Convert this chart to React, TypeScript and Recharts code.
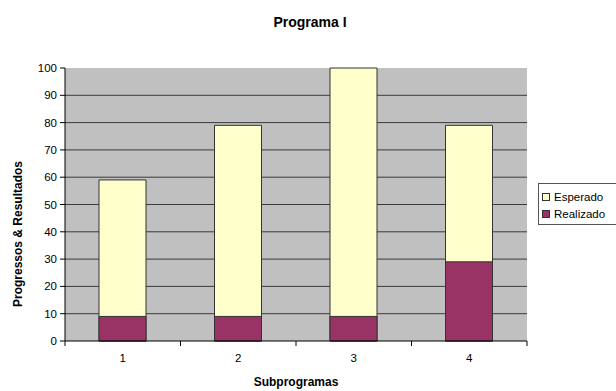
import { BarChart, Bar, XAxis, YAxis, CartesianGrid } from 'recharts'

const categories = ['1', '2', '3', '4']
const esperado = [59, 79, 100, 79]
const realizado = [9, 9, 9, 29]
const yTicks = [0, 10, 20, 30, 40, 50, 60, 70, 80, 90, 100]
const gridValues = [10, 20, 30, 40, 50, 60, 70, 80, 90]

const data = categories.map((name, i) => ({
  name,
  esperado: esperado[i],
  realizado: realizado[i],
}))

const W = 616
const H = 391
const xAxisHeight = 50
const margin = { top: 68, right: 89, bottom: 0, left: 0 }
const yAxisWidth = 65
const plotWidth = W - margin.left - margin.right - yAxisWidth
const band = plotWidth / categories.length
const font = 'Arial, "Liberation Sans", sans-serif'
const barW = 47

// Excel style: tick marks sit between categories, labels in the middle
function XTick(props: any) {
  const { x, y, payload, index } = props
  return (
    <g>
      <line x1={x - band / 2} y1={y} x2={x - band / 2} y2={y + 5} stroke="#000" />
      {index === categories.length - 1 && (
        <line x1={x + band / 2} y1={y} x2={x + band / 2} y2={y + 5} stroke="#000" />
      )}
      <text x={x} y={y + 21} textAnchor="middle" fontSize={11.5} fontFamily={font} fill="#000">
        {payload.value}
      </text>
    </g>
  )
}

export default function App() {
  return (
    <div style={{ position: 'absolute', left: 0, top: 0, width: W, height: H, background: '#fff' }}>
      <div
        style={{
          position: 'absolute',
          left: 0,
          width: 620,
          top: 14,
          textAlign: 'center',
          fontFamily: font,
          fontWeight: 'bold',
          fontSize: 14,
        }}
      >
        Programa I
      </div>
      <BarChart width={W} height={H} data={data} margin={margin} barGap={-barW}>
        <CartesianGrid
          vertical={false}
          horizontalValues={gridValues}
          fill="#c0c0c0"
          fillOpacity={1}
          stroke="#3a3a3a"
          strokeOpacity={1}
        />
        <XAxis
          dataKey="name"
          height={xAxisHeight}
          tickSize={0}
          tickMargin={0}
          tick={<XTick />}
          axisLine={{ stroke: '#000' }}
          interval={0}
          label={(p: any) => (
            <text
              x={296}
              y={386}
              textAnchor="middle"
              fontSize={12}
              fontWeight="bold"
              fontFamily={font}
              fill="#000"
            >
              Subprogramas
            </text>
          )}
        />
        <YAxis
          width={yAxisWidth}
          domain={[0, 100]}
          ticks={yTicks}
          interval={0}
          tickSize={5}
          tickMargin={3}
          tick={{ fontSize: 11.5, fontFamily: font, fill: '#000' }}
          tickLine={{ stroke: '#000' }}
          axisLine={{ stroke: '#000' }}
          label={(p: any) => (
            <text
              x={22}
              y={234}
              transform="rotate(-90 22 234)"
              textAnchor="middle"
              fontSize={12}
              fontWeight="bold"
              fontFamily={font}
              fill="#000"
            >
              Progressos &amp; Resultados
            </text>
          )}
        />
        <Bar dataKey="esperado" fill="#FFFFCC" stroke="#333" barSize={barW} isAnimationActive={false} />
        <Bar dataKey="realizado" fill="#993366" stroke="#333" barSize={barW} isAnimationActive={false} />
      </BarChart>
      <div
        style={{
          position: 'absolute',
          left: 538,
          top: 183,
          width: 82,
          height: 42,
          border: '1px solid #555',
          boxSizing: 'border-box',
          fontFamily: font,
          fontSize: 11.5,
          paddingLeft: 3,
          paddingTop: 4,
        }}
      >
        {[
          { name: 'Esperado', color: '#FFFFCC' },
          { name: 'Realizado', color: '#993366' },
        ].map((item) => (
          <div key={item.name} style={{ display: 'flex', alignItems: 'center', height: 17 }}>
            <span
              style={{
                width: 6,
                height: 6,
                background: item.color,
                border: '1px solid #333',
                marginRight: 4,
              }}
            />
            <span>{item.name}</span>
          </div>
        ))}
      </div>
    </div>
  )
}
